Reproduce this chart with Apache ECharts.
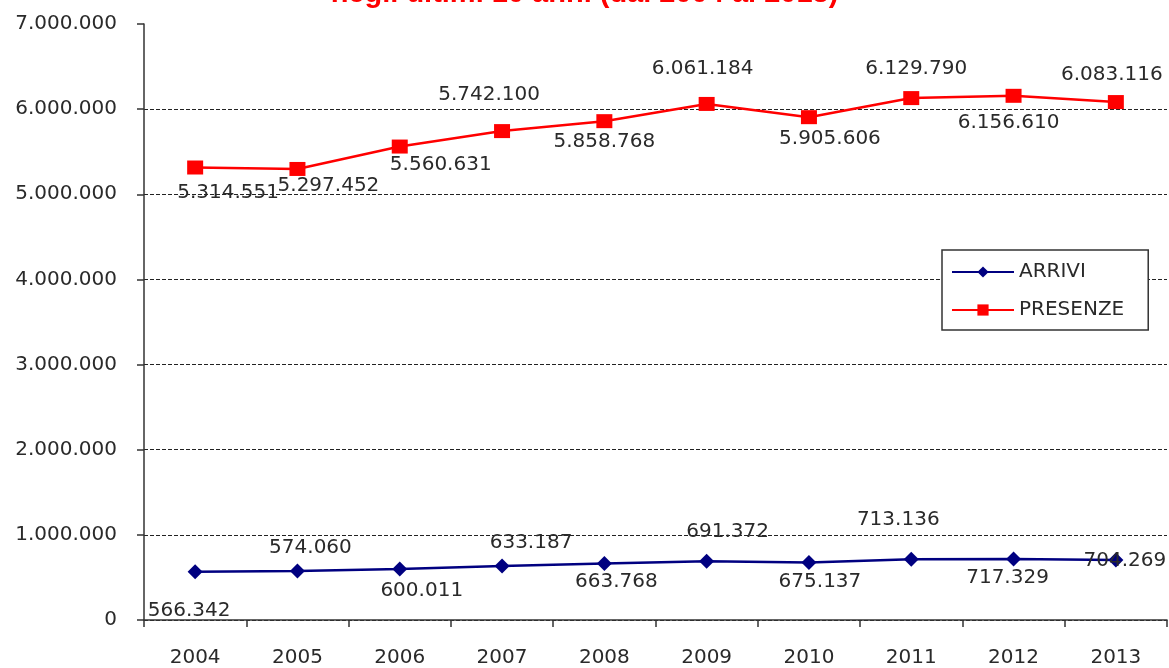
<!DOCTYPE html>
<html><head><meta charset="utf-8">
<script src="https://cdn.jsdelivr.net/npm/echarts@6/dist/echarts.min.js"></script>
<style>html,body{margin:0;padding:0;background:#fff}#c{width:1169px;height:668px}</style>
</head><body><div id="c"></div>
<script>
const years = ['2004','2005','2006','2007','2008','2009','2010','2011','2012','2013'];
const arrivi = [566342, 574060, 600011, 633187, 663768, 691372, 675137, 713136, 717329, 704269];
const presenze = [5314551, 5297452, 5560631, 5742100, 5858768, 6061184, 5905606, 6129790, 6156610, 6083116];
const yTicks = [0, 1000000, 2000000, 3000000, 4000000, 5000000, 6000000, 7000000];
const titleText = 'negli ultimi 10 anni (dal 2004 al 2013)';

// label placement (style only)
const arriviOffsets = [[-6,39],[13,-23],[22,22],[29,-23],[12,18],[21,-29],[11,19],[-13,-39],[-6,19],[9,1]];
const presenzeOffsets = [[33,25],[31,17],[41,18],[-13,-36],[0,21],[-4,-35],[21,22],[5,-29],[-5,27],[-4,-27]];

const FONT = 'DejaVu Sans';
const TXT = '#2a2a2a';
function fmt(v){ return String(Math.round(v)).replace(/\B(?=(\d{3})+(?!\d))/g,'.'); }
function mk(vals, offs){
  return vals.map((v,i)=>({value:v, label:{offset:offs[i]}}));
}
const chart = echarts.init(document.getElementById('c'), null, {renderer:'canvas'});
chart.setOption({
  backgroundColor:'#ffffff',
  animation:false,
  title:{text:titleText, left:'center', top:-26,
    textStyle:{color:'#ff0000', fontFamily:'Liberation Sans', fontWeight:'bold', fontSize:29}},
  grid:{left:144, right:2, top:24, bottom:47},
  legend:{
    orient:'vertical', left:942, top:250,
    backgroundColor:'#ffffff', borderColor:'#333333', borderWidth:1.5,
    padding:[12,24,10,9], itemWidth:62, itemHeight:14, itemGap:18,
    textStyle:{fontFamily:FONT, fontSize:20, color:TXT},
    data:['ARRIVI','PRESENZE']
  },
  xAxis:{type:'category', data:years, boundaryGap:true,
    axisLine:{lineStyle:{color:'#333', width:1.5}},
    axisTick:{show:true, length:7, lineStyle:{color:'#333', width:1.5}},
    axisLabel:{fontFamily:FONT, fontSize:20, color:TXT, margin:28}
  },
  yAxis:{type:'value', min:yTicks[0], max:yTicks[yTicks.length-1], interval:yTicks[1]-yTicks[0],
    axisLine:{show:true, lineStyle:{color:'#333', width:1.5}},
    axisTick:{show:true, length:7, lineStyle:{color:'#333', width:1.5}},
    axisLabel:{fontFamily:FONT, fontSize:20, color:TXT, margin:27, formatter:v=>v===0?'0':fmt(v)},
    splitLine:{show:true, showMaxLine:false, lineStyle:{color:'#222', type:[4,2], width:1}}
  },
  series:[
    {name:'ARRIVI', type:'line', data:mk(arrivi, arriviOffsets),
      symbol:'diamond', symbolSize:[15,15], color:'#000080',
      lineStyle:{color:'#000080', width:2.5}, itemStyle:{color:'#000080'},
      label:{show:true, position:'inside', formatter:p=>fmt(p.value), fontFamily:FONT, fontSize:20, color:TXT}
    },
    {name:'PRESENZE', type:'line', data:mk(presenze, presenzeOffsets),
      symbol:'rect', symbolSize:[16,14], color:'#ff0000',
      lineStyle:{color:'#ff0000', width:2.5}, itemStyle:{color:'#ff0000'},
      label:{show:true, position:'inside', formatter:p=>fmt(p.value), fontFamily:FONT, fontSize:20, color:TXT}
    }
  ]
});
</script></body></html>
